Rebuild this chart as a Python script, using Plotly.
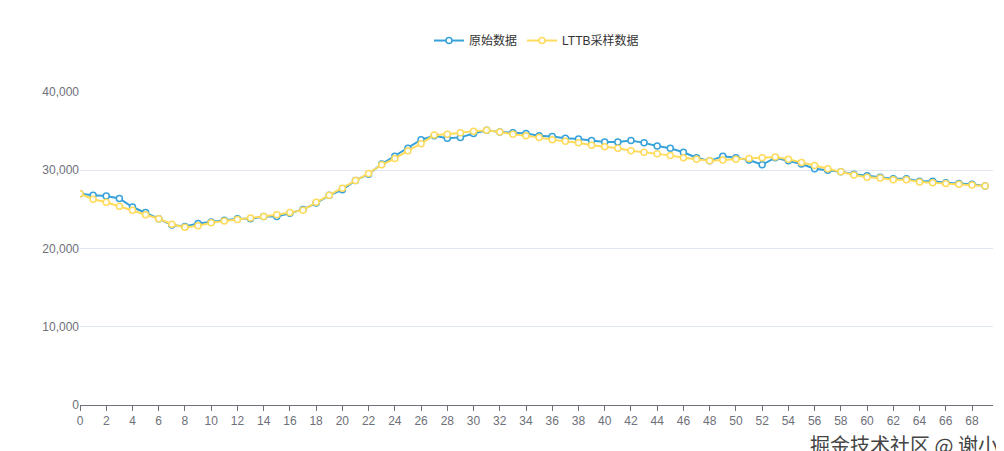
import plotly.graph_objects as go

x = list(range(70))
original = [27000, 26800, 26700, 26400, 25300, 24600, 23800, 23000, 22800, 23200,
            23400, 23600, 23800, 23800, 24100, 24100, 24500, 25000, 25800, 26800,
            27500, 28700, 29500, 30800, 31800, 32800, 33900, 34400, 34100, 34200,
            34700, 35100, 34900, 34800, 34700, 34400, 34300, 34100, 34000, 33800,
            33600, 33600, 33800, 33500, 33100, 32800, 32300, 31600, 31200, 31800,
            31600, 31300, 30700, 31600, 31200, 30800, 30200, 30000, 29800, 29500,
            29300, 29100, 28900, 28900, 28600, 28600, 28400, 28300, 28200, 28000]
sampled = [27000, 26300, 25900, 25400, 24900, 24300, 23800, 23100, 22700, 22900,
           23300, 23500, 23700, 23900, 24100, 24300, 24600, 24900, 25900, 26800,
           27700, 28700, 29600, 30700, 31500, 32500, 33400, 34500, 34600, 34800,
           35000, 35100, 34900, 34600, 34400, 34200, 33900, 33700, 33500, 33200,
           33000, 32800, 32500, 32300, 32100, 31900, 31600, 31400, 31200, 31300,
           31400, 31500, 31600, 31700, 31400, 31000, 30600, 30200, 29800, 29400,
           29100, 29000, 28800, 28800, 28500, 28400, 28300, 28200, 28100, 28000]

fig = go.Figure()
for name, ys, color in [("原始数据", original, "#37A2DA"), ("LTTB采样数据", sampled, "#FFDB5C")]:
    fig.add_trace(go.Scatter(
        x=x, y=ys, name=name, mode="lines+markers",
        line=dict(color=color, width=2),
        marker=dict(symbol="circle", size=6, color="white", line=dict(color=color, width=1.5)),
    ))

fig.update_layout(
    width=1004, height=451,
    margin=dict(l=72, r=19, t=84, b=54, autoexpand=False),
    plot_bgcolor="white", paper_bgcolor="white",
    font=dict(family="Liberation Sans, Noto Sans CJK SC", size=12, color="#6E7079"),
    legend=dict(orientation="h", x=0.5, xanchor="center", yref="container",
                y=0.96, yanchor="top", font=dict(size=12, color="#333")),
    showlegend=True,
)
fig.update_xaxes(range=[0, 69.6], tickmode="linear", tick0=0, dtick=2,
                 showgrid=False, showline=True, linecolor="#6E7079",
                 ticks="outside", ticklen=5, tickcolor="#6E7079", zeroline=False)
fig.update_yaxes(range=[0, 40000], tickvals=[0, 10000, 20000, 30000, 40000],
                 tickformat=",", gridcolor="#E0E6F1", zeroline=False, showline=False,
                 ticksuffix="  ")
fig.add_annotation(text="掘金技术社区 @ 谢小飞", xref="paper", yref="paper",
                   x=1.03, y=-0.18, xanchor="right", yanchor="bottom", showarrow=False,
                   font=dict(size=20, color="#444", family="Noto Sans CJK SC"))

fig.write_html("out.html")
